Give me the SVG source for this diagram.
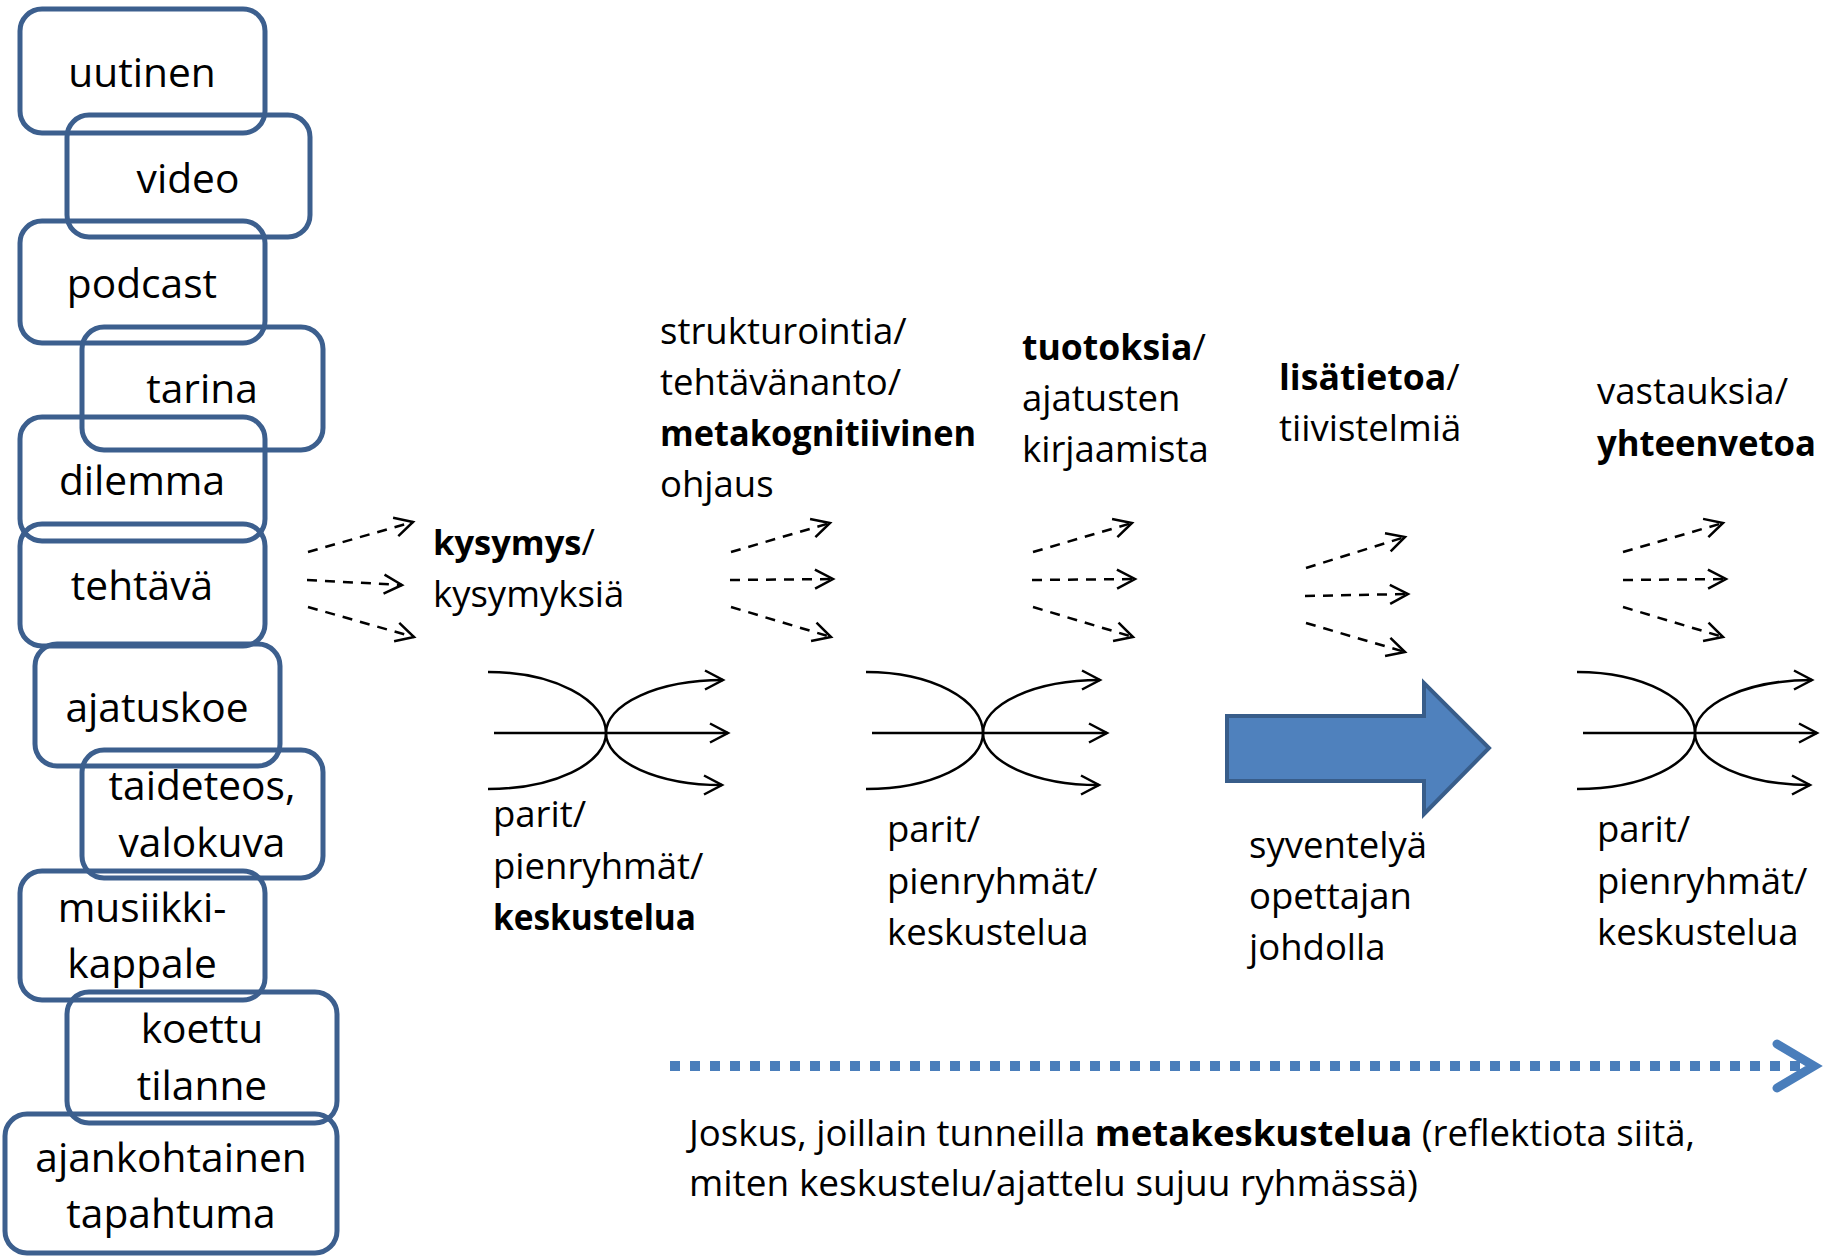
<svg xmlns="http://www.w3.org/2000/svg" width="1837" height="1257" viewBox="0 0 1837 1257">
  <style>
    .box { fill: none; stroke: #3C5F8E; stroke-width: 5; }
    .bt { font-family: 'Open Sans', 'Noto Sans', sans-serif; font-size: 40.7px; text-anchor: middle; fill: #000; }
    .t { font-family: 'Open Sans', 'Noto Sans', sans-serif; font-size: 36.5px; fill: #000; }
    .b { font-weight: bold; }
    .dash { fill: none; stroke: #000; stroke-width: 2.5; stroke-dasharray: 10 8; marker-end: url(#chev); }
    .flow { fill: none; stroke: #000; stroke-width: 2.5; }
    .tip { marker-end: url(#chev); }
  </style>
  <defs>
    <marker id="chev" markerUnits="userSpaceOnUse" markerWidth="30" markerHeight="30" viewBox="-22 -15 30 30" refX="0" refY="0" orient="auto" overflow="visible">
      <path d="M-18,-9.5 L0,0 L-18,9.5" fill="none" stroke="#000" stroke-width="2.5" stroke-dasharray="none"/>
    </marker>
  </defs>
  <rect width="1837" height="1257" fill="#fff"/>

  <!-- source material boxes -->
  <g id="box-uutinen"><rect class="box" x="20" y="9" width="245" height="124" rx="22"/><text class="bt" x="142" y="87">uutinen</text></g>
  <g id="box-video"><rect class="box" x="67" y="115" width="243" height="122" rx="22"/><text class="bt" x="188" y="193">video</text></g>
  <g id="box-podcast"><rect class="box" x="20" y="221" width="245" height="122" rx="22"/><text class="bt" x="142" y="298">podcast</text></g>
  <g id="box-tarina"><rect class="box" x="82" y="327" width="241" height="123" rx="22"/><text class="bt" x="202" y="403">tarina</text></g>
  <g id="box-dilemma"><rect class="box" x="20" y="417" width="245" height="124" rx="22"/><text class="bt" x="142" y="495">dilemma</text></g>
  <g id="box-tehtava"><rect class="box" x="20" y="524" width="245" height="122" rx="22"/><text class="bt" x="142" y="600">tehtävä</text></g>
  <g id="box-ajatuskoe"><rect class="box" x="35" y="644" width="245" height="122" rx="22"/><text class="bt" x="157" y="722">ajatuskoe</text></g>
  <g id="box-taideteos"><rect class="box" x="82" y="750" width="241" height="128" rx="22"/><text class="bt" x="202" y="800">taideteos,</text><text class="bt" x="202" y="857">valokuva</text></g>
  <g id="box-musiikki"><rect class="box" x="20" y="871" width="245" height="129" rx="22"/><text class="bt" x="142" y="922">musiikki-</text><text class="bt" x="142" y="978">kappale</text></g>
  <g id="box-koettu"><rect class="box" x="67" y="992" width="270" height="131" rx="22"/><text class="bt" x="202" y="1043">koettu</text><text class="bt" x="202" y="1100">tilanne</text></g>
  <g id="box-ajankohtainen"><rect class="box" x="5" y="1114" width="332" height="139" rx="22"/><text class="bt" x="171" y="1172">ajankohtainen</text><text class="bt" x="171" y="1228">tapahtuma</text></g>

  <!-- stage labels -->
  <g id="label-kysymys">
    <text class="t" x="433" y="555"><tspan class="b" font-size="34.5">kysymys</tspan>/</text>
    <text class="t" x="433" y="607">kysymyksiä</text>
  </g>
  <g id="label-parit-1">
    <text class="t" x="493" y="827">parit/</text>
    <text class="t" x="493" y="879">pienryhmät/</text>
    <text class="t b" x="493" y="930" textLength="203" lengthAdjust="spacingAndGlyphs">keskustelua</text>
  </g>
  <g id="label-strukturointia">
    <text class="t" x="660" y="344">strukturointia/</text>
    <text class="t" x="660" y="395">tehtävänanto/</text>
    <text class="t b" x="660" y="446" textLength="316" lengthAdjust="spacingAndGlyphs">metakognitiivinen</text>
    <text class="t" x="660" y="497">ohjaus</text>
  </g>
  <g id="label-parit-2">
    <text class="t" x="887" y="842">parit/</text>
    <text class="t" x="887" y="894">pienryhmät/</text>
    <text class="t" x="887" y="945">keskustelua</text>
  </g>
  <g id="label-tuotoksia">
    <text class="t" x="1022" y="360"><tspan class="b" font-size="35.6">tuotoksia</tspan>/</text>
    <text class="t" x="1022" y="411">ajatusten</text>
    <text class="t" x="1022" y="462">kirjaamista</text>
  </g>
  <g id="label-lisatietoa">
    <text class="t" x="1279" y="390"><tspan class="b" font-size="35.6">lisätietoa</tspan>/</text>
    <text class="t" x="1279" y="441">tiivistelmiä</text>
  </g>
  <g id="label-syventelya">
    <text class="t" x="1249" y="858">syventelyä</text>
    <text class="t" x="1249" y="909">opettajan</text>
    <text class="t" x="1249" y="960">johdolla</text>
  </g>
  <g id="label-vastauksia">
    <text class="t" x="1597" y="404">vastauksia/</text>
    <text class="t b" x="1597" y="456" textLength="219" lengthAdjust="spacingAndGlyphs">yhteenvetoa</text>
  </g>
  <g id="label-parit-3">
    <text class="t" x="1597" y="842">parit/</text>
    <text class="t" x="1597" y="894">pienryhmät/</text>
    <text class="t" x="1597" y="945">keskustelua</text>
  </g>
  <g id="label-metakeskustelu">
    <text class="t" x="689" y="1146" font-size="36" textLength="1006" lengthAdjust="spacingAndGlyphs">Joskus, joillain tunneilla <tspan class="b">metakeskustelua</tspan> (reflektiota siitä,</text>
    <text class="t" x="689" y="1196" font-size="36" textLength="729" lengthAdjust="spacingAndGlyphs">miten keskustelu/ajattelu sujuu ryhmässä)</text>
  </g>

  <!-- connectors -->
  <g id="connectors">
    <!-- dashed fans -->
    <path class="dash" d="M308,552 L413,522"/>
    <path class="dash" d="M307,580 L402,585"/>
    <path class="dash" d="M308,607 L414,637"/>

    <path class="dash" d="M731,552 L830,523"/>
    <path class="dash" d="M730,580 L833,579"/>
    <path class="dash" d="M731,607 L831,637"/>

    <path class="dash" d="M1033,552 L1132,523"/>
    <path class="dash" d="M1032,580 L1135,579"/>
    <path class="dash" d="M1033,607 L1133,637"/>

    <path class="dash" d="M1306,568 L1405,537"/>
    <path class="dash" d="M1305,596 L1408,594"/>
    <path class="dash" d="M1306,623 L1405,652"/>

    <path class="dash" d="M1623,552 L1723,523"/>
    <path class="dash" d="M1623,580 L1726,579"/>
    <path class="dash" d="M1623,607 L1723,637"/>

    <!-- converge/diverge flows -->
    <g transform="translate(606,733)">
      <path class="flow" d="M-118,-61 A118,61 0 0 1 0,0 A118,56 0 0 1 -118,56"/>
      <path class="flow tip" d="M-112,0 L122,0"/>
      <path class="flow tip" d="M0,0 A117,53 0 0 1 117,-53"/>
      <path class="flow tip" d="M0,0 A116,52 0 0 0 116,52"/>
    </g>
    <g transform="translate(983,733)">
      <path class="flow" d="M-117,-61 A117,61 0 0 1 0,0 A117,56 0 0 1 -117,56"/>
      <path class="flow tip" d="M-111,0 L124,0"/>
      <path class="flow tip" d="M0,0 A117,53 0 0 1 117,-53"/>
      <path class="flow tip" d="M0,0 A116,52 0 0 0 116,52"/>
    </g>
    <g transform="translate(1695,733)">
      <path class="flow" d="M-118,-61 A118,61 0 0 1 0,0 A118,56 0 0 1 -118,56"/>
      <path class="flow tip" d="M-112,0 L122,0"/>
      <path class="flow tip" d="M0,0 A117,53 0 0 1 117,-53"/>
      <path class="flow tip" d="M0,0 A115,52 0 0 0 115,52"/>
    </g>

    <!-- block arrow -->
    <polygon points="1227,716 1424,716 1424,683 1489,748 1424,814 1424,781 1227,781" fill="#4F81BD" stroke="#385D8A" stroke-width="4"/>

    <!-- dotted timeline arrow -->
    <line x1="670" y1="1066" x2="1806" y2="1066" stroke="#4A7EBB" stroke-width="10" stroke-dasharray="10 10"/>
    <path d="M1777,1044 L1814,1066 L1777,1088" fill="none" stroke="#4A7EBB" stroke-width="9" stroke-linecap="round"/>
  </g>
</svg>
